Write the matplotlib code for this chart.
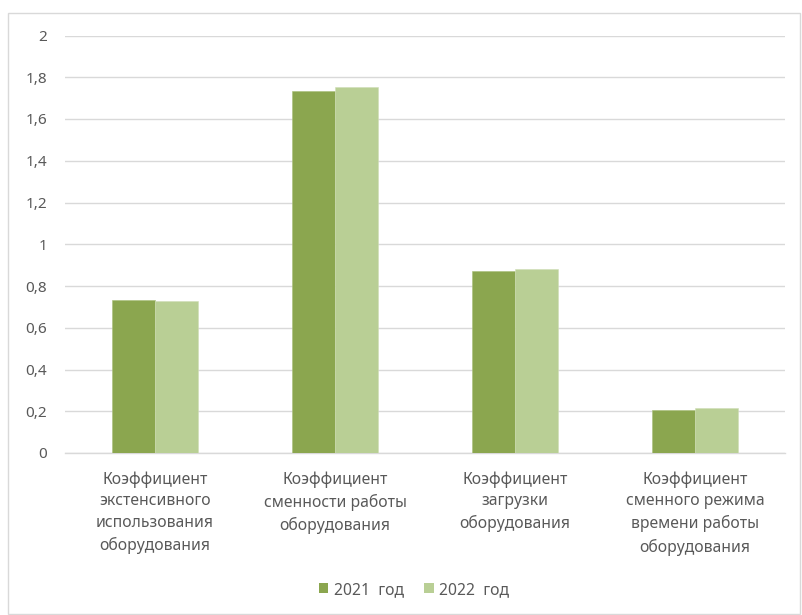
import matplotlib
matplotlib.use("Agg")
import matplotlib.pyplot as plt
import numpy as np
from matplotlib.patches import Rectangle, Patch

categories = [
    "Коэффициент\nэкстенсивного\nиспользования\nоборудования",
    "Коэффициент\nсменности работы\nоборудования",
    "Коэффициент\nзагрузки\nоборудования",
    "Коэффициент\nсменного режима\nвремени работы\nоборудования",
]
series_names = ["2021  год", "2022  год"]
values_2021 = [0.735, 1.733, 0.871, 0.205]
values_2022 = [0.726, 1.752, 0.880, 0.215]
y_ticks = [0, 0.2, 0.4, 0.6, 0.8, 1.0, 1.2, 1.4, 1.6, 1.8, 2.0]
y_labels = ["0", "0,2", "0,4", "0,6", "0,8", "1", "1,2", "1,4", "1,6", "1,8", "2"]

c2021 = "#8BA64F"
c2022 = "#B9CF95"
grid_c = "#D9D9D9"
text_c = "#595959"

plt.rcParams['font.family'] = ['Noto Sans', 'DejaVu Sans']

W, H = 802, 615
fig = plt.figure(figsize=(W / 100, H / 100), dpi=100)

# outer chart border
fig.patches.append(Rectangle((8 / W, 1 - 614 / H), (800 - 8) / W, (614 - 13) / H,
                             transform=fig.transFigure, fill=False,
                             edgecolor=grid_c, linewidth=1.0))

left, right = 65 / W, 785 / W
bottom, top = 1 - 453 / H, 1 - 35.5 / H
ax = fig.add_axes([left, bottom, right - left, top - bottom])

x = np.arange(len(categories))
bw = 0.24
ax.bar(x - bw / 2, values_2021, bw, color=c2021, edgecolor="#A9BF7A", linewidth=0.4, zorder=3)
ax.bar(x + bw / 2, values_2022, bw, color=c2022, edgecolor="#D0DEB8", linewidth=0.4, zorder=3)

ax.set_xlim(-0.5, len(categories) - 0.5)
ax.set_ylim(0, 2)
ax.set_yticks(y_ticks)
ax.set_yticklabels(y_labels)
ax.yaxis.grid(True, color=grid_c, linewidth=1.0, zorder=0)
ax.set_axisbelow(True)
for s in ["top", "right", "left"]:
    ax.spines[s].set_visible(False)
ax.spines["bottom"].set_color(grid_c)
ax.spines["bottom"].set_linewidth(1.0)
ax.tick_params(axis="y", length=0, pad=13, labelsize=11, labelcolor=text_c)
ax.tick_params(axis="x", length=0, pad=13, labelsize=11.3, labelcolor=text_c)
ax.set_xticks(x)
ax.set_xticklabels(categories, linespacing=1.47)

handles = [Patch(facecolor=c2021), Patch(facecolor=c2022)]
fig.legend(handles, series_names, loc="center", bbox_to_anchor=(414 / W, 1 - 590 / H),
           ncol=2, frameon=False, fontsize=11.3, labelcolor=text_c,
           handlelength=0.6, handleheight=0.6, handletextpad=0.35, columnspacing=1.3)

fig.savefig("out.png", dpi=100)
